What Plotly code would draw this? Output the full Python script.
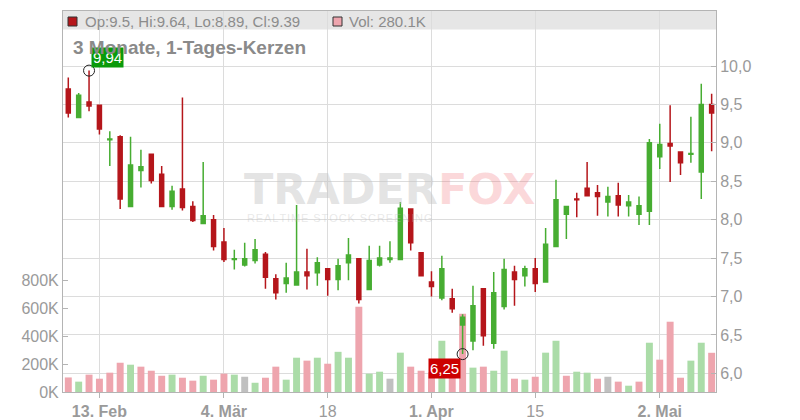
import plotly.graph_objects as go

# ---------------- data ----------------
opens = [9.70, 9.33, 9.53, 9.49, 9.04, 9.08, 8.17, 8.64, 8.85, 8.59,
         8.17, 8.40, 8.17, 7.95, 8.00, 7.71, 7.48, 7.41, 7.47, 7.55,
         7.23, 7.17, 7.15, 7.32, 7.31, 7.36, 7.22, 7.44, 7.49, 7.09,
         7.41, 7.48, 7.48, 8.14, 7.57, 7.19, 6.98, 6.97, 6.63, 6.42,
         7.10, 6.39, 6.87, 7.32, 7.27, 7.36, 7.19, 7.65, 8.07, 8.27,
         8.41, 8.35, 8.23, 8.31, 8.18, 8.07, 8.11, 8.82, 8.99, 8.88,
         8.85, 8.62, 9.50]
highs = [9.85, 9.65, 9.94, 9.49, 9.15, 9.10, 9.08, 8.91, 8.86, 8.70,
         8.44, 9.59, 8.24, 8.75, 8.06, 7.89, 7.61, 7.70, 7.75, 7.58,
         7.29, 7.44, 8.19, 7.62, 7.51, 7.37, 7.49, 7.76, 7.49, 7.66,
         7.66, 7.72, 8.23, 8.14, 7.57, 7.33, 7.53, 7.10, 6.77, 7.14,
         7.10, 7.32, 7.49, 7.40, 7.40, 7.50, 7.89, 8.52, 8.18, 8.35,
         8.75, 8.45, 8.43, 8.48, 8.32, 8.30, 9.05, 9.25, 9.49, 8.88,
         9.34, 9.77, 9.64]
lows = [9.33, 9.33, 9.41, 9.11, 8.70, 8.14, 8.17, 8.42, 8.47, 8.17,
        8.13, 8.12, 7.97, 7.95, 7.60, 7.45, 7.35, 7.39, 7.43, 7.10,
        6.96, 7.05, 7.15, 7.09, 7.14, 7.01, 7.08, 7.21, 6.91, 7.09,
        7.39, 7.44, 7.48, 7.60, 7.26, 7.00, 6.95, 6.79, 6.25, 6.30,
        6.36, 6.32, 6.83, 6.88, 7.13, 7.06, 7.19, 7.65, 7.75, 8.03,
        8.30, 8.05, 8.04, 8.04, 8.04, 7.93, 7.93, 8.66, 8.49, 8.58,
        8.74, 8.27, 8.89]
closes = [9.39, 9.62, 9.48, 9.18, 9.05, 8.27, 8.71, 8.69, 8.51, 8.17,
          8.37, 8.16, 7.99, 8.05, 7.65, 7.48, 7.49, 7.49, 7.61, 7.25,
          7.05, 7.24, 7.32, 7.27, 7.44, 7.22, 7.40, 7.54, 6.96, 7.47,
          7.50, 7.50, 8.15, 7.70, 7.27, 7.13, 7.36, 6.84, 6.73, 6.88,
          6.49, 7.05, 7.35, 7.22, 7.36, 7.17, 7.68, 8.26, 8.17, 8.26,
          8.31, 8.30, 8.30, 8.19, 8.23, 8.18, 9.00, 8.98, 8.96, 8.74,
          8.86, 9.50, 9.39]
volumes = [104e3, 74e3, 124e3, 95e3, 138e3, 209e3, 195e3, 181e3, 152e3, 116e3,
           124e3, 102e3, 81e3, 116e3, 88e3, 131e3, 124e3, 109e3, 66e3, 102e3,
           181e3, 88e3, 245e3, 224e3, 245e3, 202e3, 287e3, 245e3, 609e3, 131e3,
           145e3, 95e3, 281e3, 181e3, 152e3, 140e3, 366e3, 178e3, 559e3, 174e3,
           181e3, 152e3, 295e3, 95e3, 88e3, 109e3, 281e3, 366e3, 116e3, 145e3,
           138e3, 95e3, 109e3, 74e3, 45e3, 74e3, 352e3, 231e3, 502e3, 102e3,
           224e3, 352e3, 280.1e3]

x_tick_pos = [3, 15, 25, 35, 45, 57]
x_tick_labels = ["13. Feb", "4. Mär", "18", "1. Apr", "15", "2. Mai"]
price_ticks = [6.0, 6.5, 7.0, 7.5, 8.0, 8.5, 9.0, 9.5, 10.0]
vol_ticks = [0, 200e3, 400e3, 600e3, 800e3]
vol_tick_labels = ["0K", "200K", "400K", "600K", "800K"]
title_text = "3 Monate, 1-Tages-Kerzen"

# ---------------- styling ----------------
RED = "#b5161b"
GREEN = "#47ad32"
VOL_RED = "#eea5ae"
VOL_GREEN = "#abdca8"
VOL_GRAY = "#c0c0c0"
GRID = "#dcdcdc"
AXIS = "#b4b4b4"
TXT = "#9a9a9a"
FONT = "Liberation Sans"

n = len(closes)
xs = list(range(n))

vol_colors = []
for i in range(n):
    prev = closes[i - 1] if i > 0 else opens[0]
    if closes[i] > prev:
        vol_colors.append(VOL_GREEN)
    elif closes[i] < prev:
        vol_colors.append(VOL_RED)
    else:
        vol_colors.append(VOL_GRAY)

# plot-area pixel geometry
L, R, T, B = 63, 716, 11, 392
W, H = R - L, B - T


def px(x):
    return (x - L) / W


def py(y):
    return (B - y) / H


fig = go.Figure()
fig.add_trace(go.Bar(x=xs, y=volumes, marker_color=vol_colors, marker_line_width=0,
                     width=0.67, yaxis="y", hoverinfo="skip", showlegend=False))
fig.add_trace(go.Candlestick(
    x=xs, open=opens, high=highs, low=lows, close=closes, yaxis="y2",
    increasing=dict(line=dict(color=GREEN, width=1.5), fillcolor=GREEN),
    decreasing=dict(line=dict(color=RED, width=1.5), fillcolor=RED),
    whiskerwidth=0, showlegend=False))

imax = max(range(n), key=lambda i: highs[i])
imin = min(range(n), key=lambda i: lows[i])
fig.add_trace(go.Scatter(x=[imax, imin], y=[highs[imax], lows[imin]], mode="markers",
                         yaxis="y2", showlegend=False, hoverinfo="skip",
                         marker=dict(symbol="circle-open", size=11, color="#222",
                                     line=dict(width=1))))

fmt = lambda v: f"{v:.2f}".replace(".", ",")
annotations = [
    dict(x=imax, y=highs[imax], xref="x", yref="y2", text=fmt(highs[imax]),
         showarrow=False, xanchor="left", yanchor="bottom", xshift=2, yshift=3,
         bgcolor="#0a9a0a", borderpad=1, font=dict(family=FONT, size=15, color="white")),
    dict(x=imin, y=lows[imin], xref="x", yref="y2", text=fmt(lows[imin]),
         showarrow=False, xanchor="right", yanchor="top", xshift=-2, yshift=-4,
         bgcolor="#cc0000", borderpad=1, font=dict(family=FONT, size=15, color="white")),
    dict(x=px(83), y=py(21), xref="paper", yref="paper", showarrow=False,
         xanchor="left", yanchor="middle",
         text=f"Op:{opens[-1]:g}, Hi:{highs[-1]:g}, Lo:{lows[-1]:g}, Cl:{closes[-1]:g}",
         font=dict(family=FONT, size=15, color="#8c8c8c")),
    dict(x=px(347), y=py(21), xref="paper", yref="paper", showarrow=False,
         xanchor="left", yanchor="middle", text=f"Vol: {volumes[-1]/1000:.1f}K",
         font=dict(family=FONT, size=15, color="#8c8c8c")),
    dict(x=px(71), y=py(47.5), xref="paper", yref="paper", showarrow=False,
         xanchor="left", yanchor="middle", text=f"<b>{title_text}</b>",
         font=dict(family=FONT, size=19, color="#8a8a8a")),
    dict(x=px(390), y=py(189), xref="paper", yref="paper", showarrow=False,
         xanchor="center", yanchor="middle",
         text='<b><span style="color:rgba(195,195,195,0.45)">TRADER</span>'
              '<span style="color:rgba(240,100,110,0.25)">FOX</span></b>',
         font=dict(family="DejaVu Sans", size=43)),
    dict(x=px(340), y=py(218), xref="paper", yref="paper", showarrow=False,
         xanchor="center", yanchor="middle",
         text="\u200a".join("REALTIME STOCK SCREENING"),
         font=dict(family=FONT, size=11, color="rgba(190,190,190,0.35)")),
]

shapes = [
    dict(type="rect", xref="paper", yref="paper", x0=0, x1=1, y0=py(29.5), y1=1,
         fillcolor="#e6e6e6", line=dict(width=0), layer="below"),
    dict(type="rect", xref="paper", yref="paper", x0=px(68), x1=px(77), y0=py(26), y1=py(17),
         fillcolor=RED, line=dict(color="#333", width=1)),
    dict(type="rect", xref="paper", yref="paper", x0=px(333), x1=px(342), y0=py(26), y1=py(17),
         fillcolor=VOL_RED, line=dict(color="#333", width=1)),
]

x_text = [f"<b>{t}</b>" if "." in t else t for t in x_tick_labels]

fig.update_layout(
    width=800, height=420,
    margin=dict(l=L, r=800 - R, t=T, b=420 - B, autoexpand=False),
    paper_bgcolor="white", plot_bgcolor="white",
    separators=",.",
    boxgap=0.45,
    font=dict(family=FONT, size=16, color=TXT),
    showlegend=False,
    xaxis=dict(range=[-0.51, 62.42], rangeslider=dict(visible=False),
               tickmode="array", tickvals=x_tick_pos, ticktext=x_text,
               showgrid=True, gridcolor=GRID, gridwidth=1, zeroline=False,
               showline=True, linecolor=AXIS, mirror=True,
               ticks="outside", ticklen=5, tickcolor=AXIS,
               tickfont=dict(family=FONT, size=16, color=TXT), automargin=False),
    yaxis=dict(range=[0, 381 / 0.14 * 1000], side="left",
               tickmode="array", tickvals=vol_ticks, ticktext=vol_tick_labels,
               showgrid=False, zeroline=False, showline=True, linecolor=AXIS,
               ticks="inside", ticklen=5, tickcolor=AXIS,
               tickfont=dict(family=FONT, size=16, color=TXT), automargin=False),
    yaxis2=dict(range=[5.757, 10.716], side="right", overlaying="y",
                tickmode="array", tickvals=price_ticks, tickformat=".1f",
                showgrid=True, gridcolor=GRID, gridwidth=1, zeroline=False,
                showline=True, linecolor=AXIS, ticks="inside", ticklen=5, tickcolor=AXIS,
                tickfont=dict(family=FONT, size=16, color=TXT), automargin=False),
    annotations=annotations,
    shapes=shapes,
)

fig.write_html("out.html", config={"displayModeBar": False},
               post_script="document.body.style.margin='0px';document.body.style.overflow='hidden';")
